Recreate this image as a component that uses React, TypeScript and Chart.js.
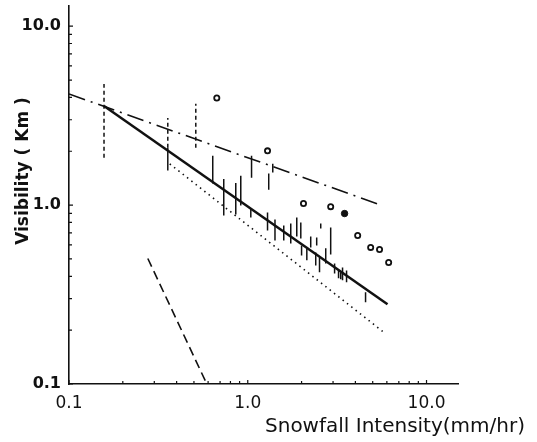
import React, { useEffect, useRef } from "react";
import { Chart, registerables } from "chart.js";

Chart.register(...registerables);

// Fitted lines (two end points each)
const regressionX = [0.157, 6.05];
const regressionY = [3.58, 0.279];
const dashDotX = [0.1, 5.4];
const dashDotY = [4.18, 1.01];
const dottedX = [0.366, 5.75];
const dottedY = [1.7, 0.195];
const dashedX = [0.276, 0.59];
const dashedY = [0.503, 0.1];

// Circles
const openCircleX = [0.671, 1.29, 2.05, 2.91, 4.12, 4.87, 5.46, 6.14];
const openCircleY = [3.97, 2.01, 1.02, 0.98, 0.676, 0.58, 0.565, 0.478];
const filledCircleX = [3.48];
const filledCircleY = [0.897];

// Dashed range bars
const dashedRangeX = [0.157, 0.357, 0.512];
const dashedRangeLow = [1.84, 2.09, 2.09];
const dashedRangeHigh = [4.75, 3.07, 3.68];

// Solid range bars
const rangeX = [
  0.357, 0.637, 0.734, 0.857, 0.914, 1.05, 1.04, 1.31, 1.38, 1.29, 1.42, 1.59,
  1.74, 1.88, 1.98, 2.0, 2.14, 2.25, 2.43, 2.4, 2.56, 2.52, 2.73, 2.91, 3.06,
  3.22, 3.31, 3.39, 3.57, 4.56,
];
const rangeLow = [
  1.56, 1.32, 0.874, 0.885, 0.994, 1.42, 0.852, 1.22, 1.52, 0.721, 0.634, 0.634,
  0.61, 0.668, 0.65, 0.523, 0.491, 0.58, 0.595, 0.46, 0.74, 0.421, 0.472, 0.53,
  0.415, 0.39, 0.385, 0.38, 0.37, 0.286,
];
const rangeHigh = [
  2.09, 1.89, 1.4, 1.33, 1.46, 1.89, 0.956, 1.5, 1.7, 0.908, 0.83, 0.769,
  0.789, 0.852, 0.799, 0.595, 0.573, 0.668, 0.659, 0.544, 0.789, 0.51, 0.573,
  0.75, 0.472, 0.431, 0.421, 0.448, 0.431, 0.326,
];

const xMajorTicks = [0.1, 1, 10];
const xTickLabels = ["0.1", "1.0", "10.0"];
const yMajorTicks = [0.1, 1, 10];
const yTickLabels = ["0.1", "1.0", "10.0"];
const xTitle = "Snowfall Intensity(mm/hr)";
const yTitle = "Visibility ( Km )";

const INK = "#111";

function pairs(xs: number[], ys: number[]) {
  return xs.map((x, i) => ({ x, y: ys[i] }));
}

function segments(xs: number[], lows: number[], highs: number[]) {
  const pts: any[] = [];
  xs.forEach((x, i) => {
    pts.push({ x, y: lows[i] }, { x, y: highs[i] }, { x, y: null });
  });
  return pts;
}

const decorPlugin = {
  id: "decor",
  afterDraw(chart: any) {
    const { ctx, chartArea } = chart;
    const xs = chart.scales.x;
    const ys = chart.scales.y;
    ctx.save();
    ctx.strokeStyle = INK;
    ctx.lineWidth = 1.2;
    ctx.beginPath();
    [0.1, 1, 10].forEach((d) => {
      for (let m = 1; m <= 9; m++) {
        const v = d * m;
        if (v >= xs.min - 1e-9 && v <= xs.max + 1e-9) {
          const px = xs.getPixelForValue(v);
          const len = m === 1 ? 4 : 3;
          ctx.moveTo(px, chartArea.bottom);
          ctx.lineTo(px, chartArea.bottom - len);
        }
        if (v >= ys.min - 1e-9 && v <= ys.max + 1e-9) {
          const py = ys.getPixelForValue(v);
          const len = m === 1 ? 4 : 3;
          ctx.moveTo(chartArea.left, py);
          ctx.lineTo(chartArea.left + len, py);
        }
      }
    });
    ctx.stroke();

    ctx.fillStyle = INK;
    ctx.font = "20px 'DejaVu Sans'";
    ctx.textAlign = "right";
    ctx.textBaseline = "middle";
    ctx.fillText(xTitle, 525, 427);

    ctx.translate(24, 171);
    ctx.rotate(-Math.PI / 2);
    ctx.font = "bold 17px 'DejaVu Sans'";
    ctx.textAlign = "center";
    ctx.fillText(yTitle, 0, 0);
    ctx.restore();
  },
};

export default function App() {
  const ref = useRef<HTMLCanvasElement | null>(null);

  useEffect(() => {
    document.body.style.margin = "0";
    if (!ref.current) return;
    const lineDs = (xs: number[], ys: number[], width: number, dash: number[]) => ({
      data: pairs(xs, ys),
      showLine: true,
      borderColor: INK,
      borderWidth: width,
      borderDash: dash,
      pointRadius: 0,
      fill: false,
    });
    const chart = new Chart(ref.current, {
      type: "scatter",
      data: {
        datasets: [
          lineDs(regressionX, regressionY, 2.5, []),
          lineDs(dashDotX, dashDotY, 1.6, [17, 6, 2, 6]),
          lineDs(dottedX, dottedY, 1.6, [1.5, 4]),
          lineDs(dashedX, dashedY, 1.6, [9, 5]),
          {
            data: segments(rangeX, rangeLow, rangeHigh),
            showLine: true,
            spanGaps: false,
            borderColor: INK,
            borderWidth: 1.5,
            pointRadius: 0,
          },
          {
            data: segments(dashedRangeX, dashedRangeLow, dashedRangeHigh),
            showLine: true,
            spanGaps: false,
            borderColor: INK,
            borderWidth: 1.5,
            borderDash: [4, 3],
            pointRadius: 0,
          },
          {
            data: pairs(openCircleX, openCircleY),
            showLine: false,
            pointRadius: 2.6,
            pointBorderWidth: 1.8,
            pointBorderColor: INK,
            pointBackgroundColor: "#fff",
          },
          {
            data: pairs(filledCircleX, filledCircleY),
            showLine: false,
            pointRadius: 3.2,
            pointBorderWidth: 1,
            pointBorderColor: INK,
            pointBackgroundColor: INK,
          },
        ] as any,
      },
      options: {
        responsive: false,
        animation: false,
        devicePixelRatio: 1,
        layout: { padding: { top: 4, right: 79, left: 0, bottom: 0 } },
        plugins: { legend: { display: false }, tooltip: { enabled: false } },
        scales: {
          x: {
            type: "logarithmic",
            position: "bottom",
            min: 0.1,
            max: 15,
            afterBuildTicks: (s: any) => {
              s.ticks = xMajorTicks.map((v) => ({ value: v }));
            },
            afterFit: (s: any) => {
              s.height = 58;
              s.paddingLeft = 0;
              s.paddingRight = 0;
            },
            ticks: {
              autoSkip: false,
              maxRotation: 0,
              padding: 9,
              color: INK,
              font: { family: "'DejaVu Sans'", size: 17 },
              callback: (_v: any, i: number) => xTickLabels[i],
            },
            grid: { display: false, drawTicks: false },
            border: { display: true, color: INK, width: 1.6 },
          },
          y: {
            type: "logarithmic",
            position: "left",
            min: 0.1,
            max: 13,
            afterBuildTicks: (s: any) => {
              s.ticks = yMajorTicks.map((v) => ({ value: v }));
            },
            afterFit: (s: any) => {
              s.width = 69;
              s.paddingTop = 0;
              s.paddingBottom = 0;
            },
            ticks: {
              autoSkip: false,
              padding: 8,
              color: INK,
              font: { family: "'DejaVu Sans'", size: 16, weight: "bold" },
              callback: (_v: any, i: number) => yTickLabels[i],
            },
            grid: { display: false, drawTicks: false },
            border: { display: true, color: INK, width: 1.6 },
          },
        },
      } as any,
      plugins: [decorPlugin],
    });
    return () => chart.destroy();
  }, []);

  return <canvas ref={ref} width={537} height={442} style={{ display: "block" }} />;
}
